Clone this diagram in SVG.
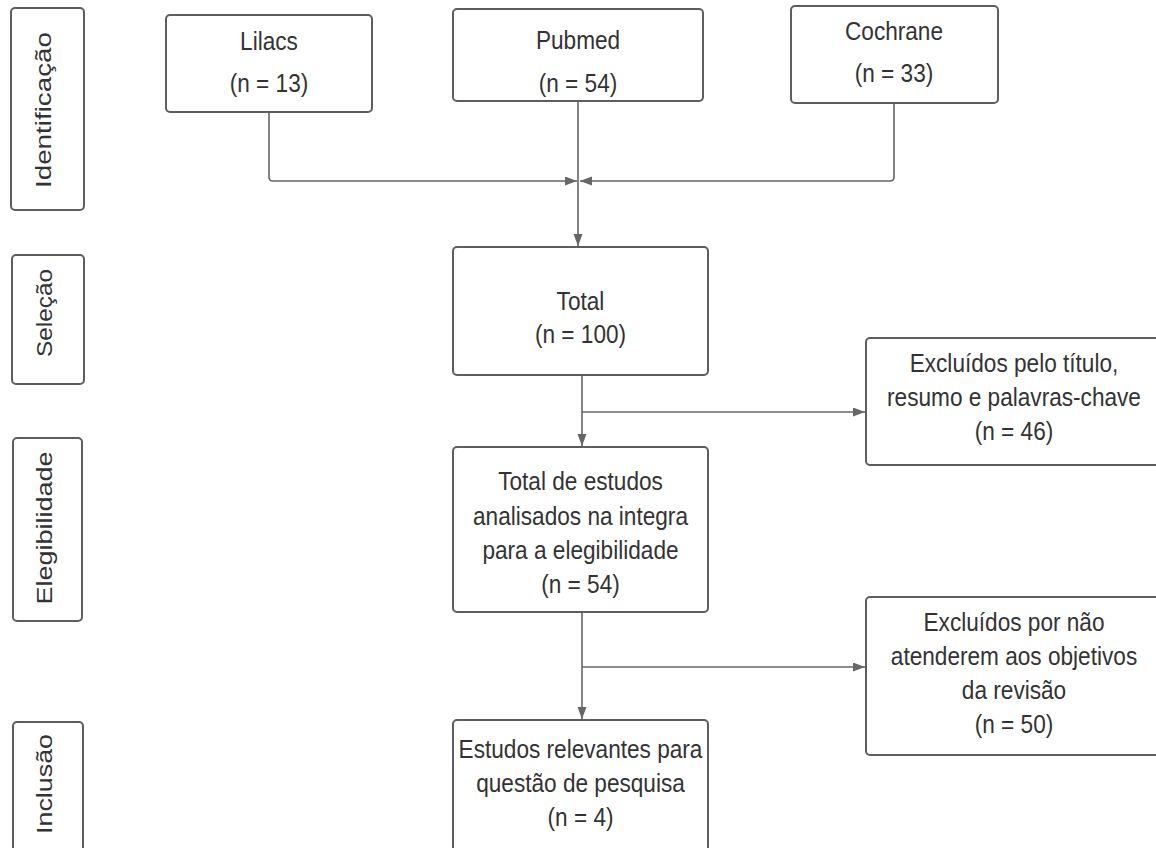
<svg xmlns="http://www.w3.org/2000/svg" width="1156" height="848" viewBox="0 0 1156 848">
<style>
.box{fill:#fff;stroke:#5e5e5e;stroke-width:2}
.t{font-family:"Liberation Sans",Arial,sans-serif;font-size:26px;fill:#333;text-anchor:middle}
.lab{font-family:"Liberation Sans",Arial,sans-serif;font-size:22px;fill:#333;text-anchor:middle}
.ln{fill:none;stroke:#666;stroke-width:1.6}
</style>
<defs>
<marker id="ah" markerUnits="userSpaceOnUse" markerWidth="13" markerHeight="10" refX="12" refY="4.5" orient="auto">
<path d="M0,0 L12,4.5 L0,9 z" fill="#666"/>
</marker>
</defs>
<rect width="1156" height="848" fill="#fff"/>

<g id="phase-identificacao">
<rect class="box" x="11" y="8" width="73" height="202" rx="4"/>
<text class="lab" transform="translate(51 110) rotate(-90)" x="0" y="0" textLength="156" lengthAdjust="spacingAndGlyphs">Identificação</text>
</g>
<g id="phase-selecao">
<rect class="box" x="12" y="255" width="72" height="129" rx="4"/>
<text class="lab" transform="translate(52 313) rotate(-90)" x="0" y="0" textLength="88" lengthAdjust="spacingAndGlyphs">Seleção</text>
</g>
<g id="phase-elegibilidade">
<rect class="box" x="13" y="438" width="69" height="183" rx="4"/>
<text class="lab" transform="translate(52 528) rotate(-90)" x="0" y="0" textLength="153" lengthAdjust="spacingAndGlyphs">Elegibilidade</text>
</g>
<g id="phase-inclusao">
<rect class="box" x="13" y="722" width="70" height="140" rx="4"/>
<text class="lab" transform="translate(52 784) rotate(-90)" x="0" y="0" textLength="100" lengthAdjust="spacingAndGlyphs">Inclusão</text>
</g>

<g id="connectors">
<path class="ln" d="M269,112 V177 Q269,181 273,181 H577" marker-end="url(#ah)"/>
<path class="ln" d="M894,103 V177 Q894,181 890,181 H580" marker-end="url(#ah)"/>
<path class="ln" d="M578,101 V246" marker-end="url(#ah)"/>
<path class="ln" d="M582,375 V446" marker-end="url(#ah)"/>
<path class="ln" d="M582,412 H865" marker-end="url(#ah)"/>
<path class="ln" d="M582,612 V719" marker-end="url(#ah)"/>
<path class="ln" d="M582,667 H865" marker-end="url(#ah)"/>
</g>

<g id="lilacs">
<rect class="box" x="166" y="15" width="206" height="97" rx="4"/>
<text class="t" transform="translate(269 0) scale(0.87 1)"><tspan x="0" y="50">Lilacs</tspan><tspan x="0" y="92">(n = 13)</tspan></text>
</g>
<g id="pubmed">
<rect class="box" x="453" y="9" width="250" height="92" rx="4"/>
<text class="t" transform="translate(578 0) scale(0.87 1)"><tspan x="0" y="49">Pubmed</tspan><tspan x="0" y="92">(n = 54)</tspan></text>
</g>
<g id="cochrane">
<rect class="box" x="791" y="6" width="207" height="97" rx="4"/>
<text class="t" transform="translate(894 0) scale(0.87 1)"><tspan x="0" y="40">Cochrane</tspan><tspan x="0" y="82">(n = 33)</tspan></text>
</g>
<g id="total">
<rect class="box" x="453" y="247" width="255" height="128" rx="4"/>
<text class="t" transform="translate(580.5 0) scale(0.87 1)"><tspan x="0" y="310">Total</tspan><tspan x="0" y="343">(n = 100)</tspan></text>
</g>
<g id="excluidos-titulo">
<rect class="box" x="866" y="338" width="300" height="127" rx="4"/>
<text class="t" transform="translate(1014 0) scale(0.87 1)"><tspan x="0" y="372">Excluídos pelo título,</tspan><tspan x="0" y="406">resumo e palavras-chave</tspan><tspan x="0" y="440">(n = 46)</tspan></text>
</g>
<g id="total-estudos">
<rect class="box" x="453" y="447" width="255" height="165" rx="4"/>
<text class="t" transform="translate(580.5 0) scale(0.87 1)"><tspan x="0" y="490">Total de estudos</tspan><tspan x="0" y="525">analisados na integra</tspan><tspan x="0" y="559">para a elegibilidade</tspan><tspan x="0" y="593">(n = 54)</tspan></text>
</g>
<g id="excluidos-objetivos">
<rect class="box" x="866" y="597" width="300" height="158" rx="4"/>
<text class="t" transform="translate(1014 0) scale(0.87 1)"><tspan x="0" y="631">Excluídos por não</tspan><tspan x="0" y="665">atenderem aos objetivos</tspan><tspan x="0" y="699">da revisão</tspan><tspan x="0" y="733">(n = 50)</tspan></text>
</g>
<g id="estudos-relevantes">
<rect class="box" x="453" y="720" width="255" height="140" rx="4"/>
<text class="t" transform="translate(580.5 0) scale(0.87 1)"><tspan x="0" y="758">Estudos relevantes para</tspan><tspan x="0" y="792">questão de pesquisa</tspan><tspan x="0" y="826">(n = 4)</tspan></text>
</g>
</svg>
